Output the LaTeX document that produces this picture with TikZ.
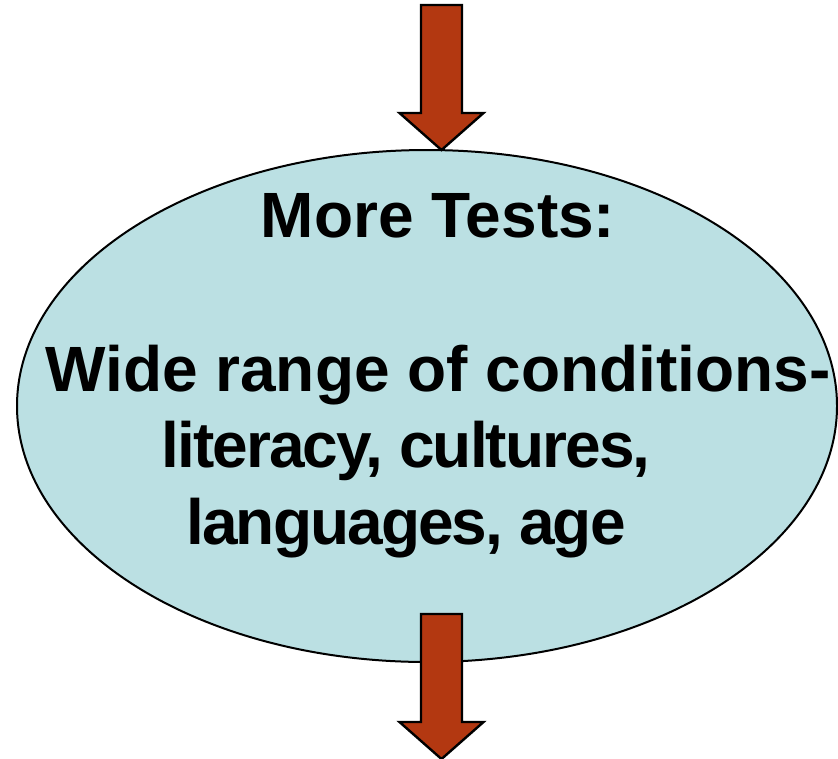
\documentclass[tikz,border=0pt]{standalone}
\usepackage{fontspec}
\setmainfont{Liberation Sans}
\usetikzlibrary{shapes.geometric}
\usetikzlibrary{positioning}

\definecolor{ovalblue}{RGB}{187,224,227}
\definecolor{arrowred}{RGB}{179,56,17}

\tikzset{
  oval/.style={draw, ellipse, fill=ovalblue, line width=1.5pt, inner sep=0pt},
  blockarrow/.style={draw, fill=arrowred, line width=1.8pt, line join=miter},
  ovaltext/.style={font=\bfseries\fontsize{48}{57.5}\selectfont, align=center, inner sep=0pt}
}

% block arrow hanging down from a coordinate
\newcommand{\blockarrow}[1]{%
  \draw[blockarrow, shift={(#1)}] (-20.5,0) -- ++(0,108) -- ++(-21.5,0)
    -- ++(42,37) -- ++(42,-37) -- ++(-21.5,0) -- ++(0,-108) -- cycle;}
% tighter letters for the last two lines
\newcommand{\tightline}[1]{{\addfontfeature{LetterSpace=-3}#1}\hspace*{48pt}\mbox{}}

\begin{document}
\begin{tikzpicture}[x=0.75pt, y=-0.75pt]
        \useasboundingbox (0,0) rectangle (838,758);
        \clip (0,0) rectangle (838,758);
        \node [oval, minimum width=615pt, minimum height=384pt] (tests) at (427,406) {};
        \coordinate (in) at (441.5,5);
        \coordinate (out) at (441.5,614);
        \blockarrow{in}
        \blockarrow{out}
        \node [ovaltext] (txt) at (438,376) {More Tests:\\ \\Wide range of conditions-\\\tightline{literacy, cultures,}\\\tightline{languages, age}};
    \end{tikzpicture}
\end{document}
